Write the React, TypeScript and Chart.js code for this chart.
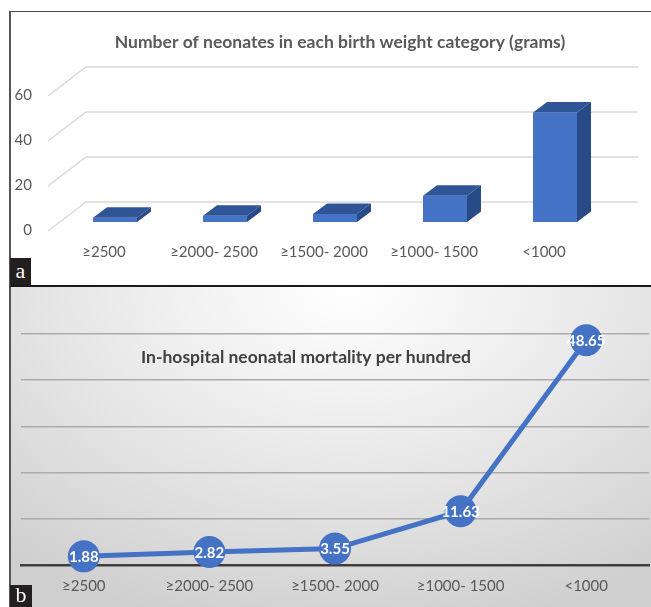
import React, { useEffect, useRef } from 'react';
import { Chart, registerables } from 'chart.js';

Chart.register(...registerables);

const categories = ['≥2500', '≥2000- 2500', '≥1500- 2000', '≥1000- 1500', '<1000'];
const barValues = [1.88, 2.82, 3.55, 11.63, 48.65];
const mortality = [1.88, 2.82, 3.55, 11.63, 48.65];
const barTickStep = 20;
const barMax = 60;
const lineTickStep = 10;
const lineMax = 50;
const titleA = 'Number of neonates in each birth weight category (grams)';
const titleB = 'In-hospital neonatal mortality per hundred';

const FONT = 'Lato, "Open Sans", sans-serif';
const BLUE = '#4472C4';

const floorGrid = {
  id: 'floorGrid',
  beforeDatasetsDraw(chart: any) {
    const { ctx, chartArea, scales } = chart;
    const y = scales.y;
    ctx.save();
    ctx.strokeStyle = '#d9d9d9';
    ctx.lineWidth = 1.5;
    y.ticks.forEach((t: any) => {
      const py = y.getPixelForValue(t.value);
      ctx.beginPath();
      ctx.moveTo(chartArea.left - 12, py + 9);
      ctx.lineTo(chartArea.left + 26, py - 20);
      ctx.lineTo(chartArea.right + 28, py - 20);
      ctx.stroke();
    });
    ctx.restore();
  },
};

const bar3d = {
  id: 'bar3d',
  afterDatasetsDraw(chart: any) {
    const { ctx } = chart;
    const meta = chart.getDatasetMeta(0);
    const dx = 14;
    const dy = 10.5;
    ctx.save();
    meta.data.forEach((bar: any) => {
      const { x, y, base, width } = bar.getProps(['x', 'y', 'base', 'width'], true);
      const l = x - width / 2;
      const r = x + width / 2;
      ctx.fillStyle = '#2f5597';
      ctx.beginPath();
      ctx.moveTo(l, y);
      ctx.lineTo(l + dx, y - dy);
      ctx.lineTo(r + dx, y - dy);
      ctx.lineTo(r, y);
      ctx.closePath();
      ctx.fill();
      ctx.fillStyle = '#284a86';
      ctx.beginPath();
      ctx.moveTo(r, y);
      ctx.lineTo(r + dx, y - dy);
      ctx.lineTo(r + dx, base - dy);
      ctx.lineTo(r, base);
      ctx.closePath();
      ctx.fill();
    });
    ctx.restore();
  },
};

const makeTitle = (text: string, x: number, y: number, color: string) => ({
  id: 'customTitle',
  afterDraw(chart: any) {
    const { ctx } = chart;
    ctx.save();
    ctx.font = `bold 17.5px ${FONT}`;
    ctx.fillStyle = color;
    ctx.textAlign = 'center';
    ctx.textBaseline = 'middle';
    ctx.fillText(text, x, y);
    ctx.restore();
  },
});

const pointLabels = {
  id: 'pointLabels',
  afterDatasetsDraw(chart: any) {
    const { ctx } = chart;
    const meta = chart.getDatasetMeta(0);
    const ds = chart.data.datasets[0];
    ctx.save();
    ctx.font = `bold 15px ${FONT}`;
    ctx.fillStyle = '#ffffff';
    ctx.textAlign = 'center';
    ctx.textBaseline = 'middle';
    meta.data.forEach((pt: any, i: number) => {
      ctx.fillText((ds.data[i] as number).toFixed(2), pt.x, pt.y + 1);
    });
    ctx.restore();
  },
};

export default function App() {
  const refA = useRef<HTMLCanvasElement>(null);
  const refB = useRef<HTMLCanvasElement>(null);

  useEffect(() => {
    const chartA = new Chart(refA.current as HTMLCanvasElement, {
      type: 'bar',
      data: {
        labels: categories,
        datasets: [
          {
            data: barValues,
            backgroundColor: BLUE,
            borderWidth: 0,
            barPercentage: 0.4,
            categoryPercentage: 1,
          },
        ],
      },
      options: {
        animation: false,
        responsive: false,
        layout: { padding: { top: 75, right: 59, bottom: 0, left: 0 } },
        plugins: { legend: { display: false }, tooltip: { enabled: false }, title: { display: false } },
        scales: {
          x: {
            grid: { display: false, drawTicks: false },
            border: { display: false },
            ticks: {
              color: '#595959',
              font: { family: FONT, size: 15 },
              padding: 21,
              labelOffset: -11,
              maxRotation: 0,
              autoSkip: false,
            },
            afterFit: (s: any) => {
              s.height = 63;
            },
          },
          y: {
            min: 0,
            max: barMax,
            grid: { display: false, drawTicks: false },
            border: { display: false },
            ticks: {
              stepSize: barTickStep,
              color: '#595959',
              font: { family: FONT, size: 15 },
              padding: 28,
              labelOffset: 8,
            },
            afterFit: (s: any) => {
              s.width = 49;
            },
          },
        },
      } as any,
      plugins: [floorGrid, bar3d, makeTitle(titleA, 329, 30, '#595959')],
    });

    const chartB = new Chart(refB.current as HTMLCanvasElement, {
      type: 'line',
      data: {
        labels: categories,
        datasets: [
          {
            data: mortality,
            borderColor: BLUE,
            borderWidth: 5,
            pointRadius: 16,
            pointHoverRadius: 16,
            pointBackgroundColor: BLUE,
            pointBorderWidth: 0,
            pointBorderColor: BLUE,
            tension: 0,
            clip: false,
          } as any,
        ],
      },
      options: {
        animation: false,
        responsive: false,
        layout: { padding: { top: 47, left: 0, right: 0, bottom: 0 } },
        plugins: { legend: { display: false }, tooltip: { enabled: false }, title: { display: false } },
        scales: {
          x: {
            offset: true,
            grid: { display: false, drawTicks: false },
            border: { display: true, color: '#3f3f3f', width: 2.5 },
            ticks: {
              color: '#595959',
              font: { family: FONT, size: 15 },
              padding: 12,
              maxRotation: 0,
              autoSkip: false,
            },
            afterFit: (s: any) => {
              s.height = 42;
            },
          },
          y: {
            min: 0,
            max: lineMax,
            ticks: { display: false, stepSize: lineTickStep },
            grid: {
              drawTicks: false,
              color: (c: any) => (c.tick && c.tick.value === 0 ? 'rgba(0,0,0,0)' : '#ababab'),
              lineWidth: 1.5,
            },
            border: { display: false },
            afterFit: (s: any) => {
              s.width = 0;
            },
          },
        },
      } as any,
      plugins: [pointLabels, makeTitle(titleB, 301, 70, '#404040')],
    });

    return () => {
      chartA.destroy();
      chartB.destroy();
    };
  }, []);

  const boxLabel: React.CSSProperties = {
    position: 'absolute',
    background: '#231f20',
    color: '#ffffff',
    fontFamily: '"Liberation Serif", "DejaVu Serif", serif',
    fontSize: 22,
    textAlign: 'center',
    lineHeight: '24px',
  };

  return (
    <div
      style={{
        position: 'absolute',
        left: 0,
        top: 0,
        width: 651,
        height: 607,
        overflow: 'hidden',
        background: '#ffffff',
      }}
    >
      <div
        style={{
          position: 'absolute',
          left: 9,
          top: 11,
          width: 700,
          height: 273,
          borderTop: '1px solid #4a4a4a',
          borderLeft: '2px solid #555555',
          borderBottom: '2px solid #1a1a1a',
          background: '#ffffff',
        }}
      >
        <canvas ref={refA} width={658} height={273} style={{ display: 'block' }} />
      </div>
      <div
        style={{
          position: 'absolute',
          left: 9,
          top: 287,
          width: 700,
          height: 320,
          borderLeft: '2px solid #555555',
          background: 'radial-gradient(ellipse 75% 110% at 48% 0%, #ffffff 0%, #e6e6e6 55%, #cfcfcf 100%)',
        }}
      >
        <canvas
          ref={refB}
          width={660}
          height={320}
          style={{ display: 'block', position: 'absolute', left: -6, top: 0 }}
        />
      </div>
      <div style={{ ...boxLabel, left: 10, top: 258, width: 21, height: 27, lineHeight: '26px' }}>a</div>
      <div style={{ ...boxLabel, left: 10, top: 585, width: 22, height: 22, lineHeight: '20px' }}>b</div>
    </div>
  );
}
